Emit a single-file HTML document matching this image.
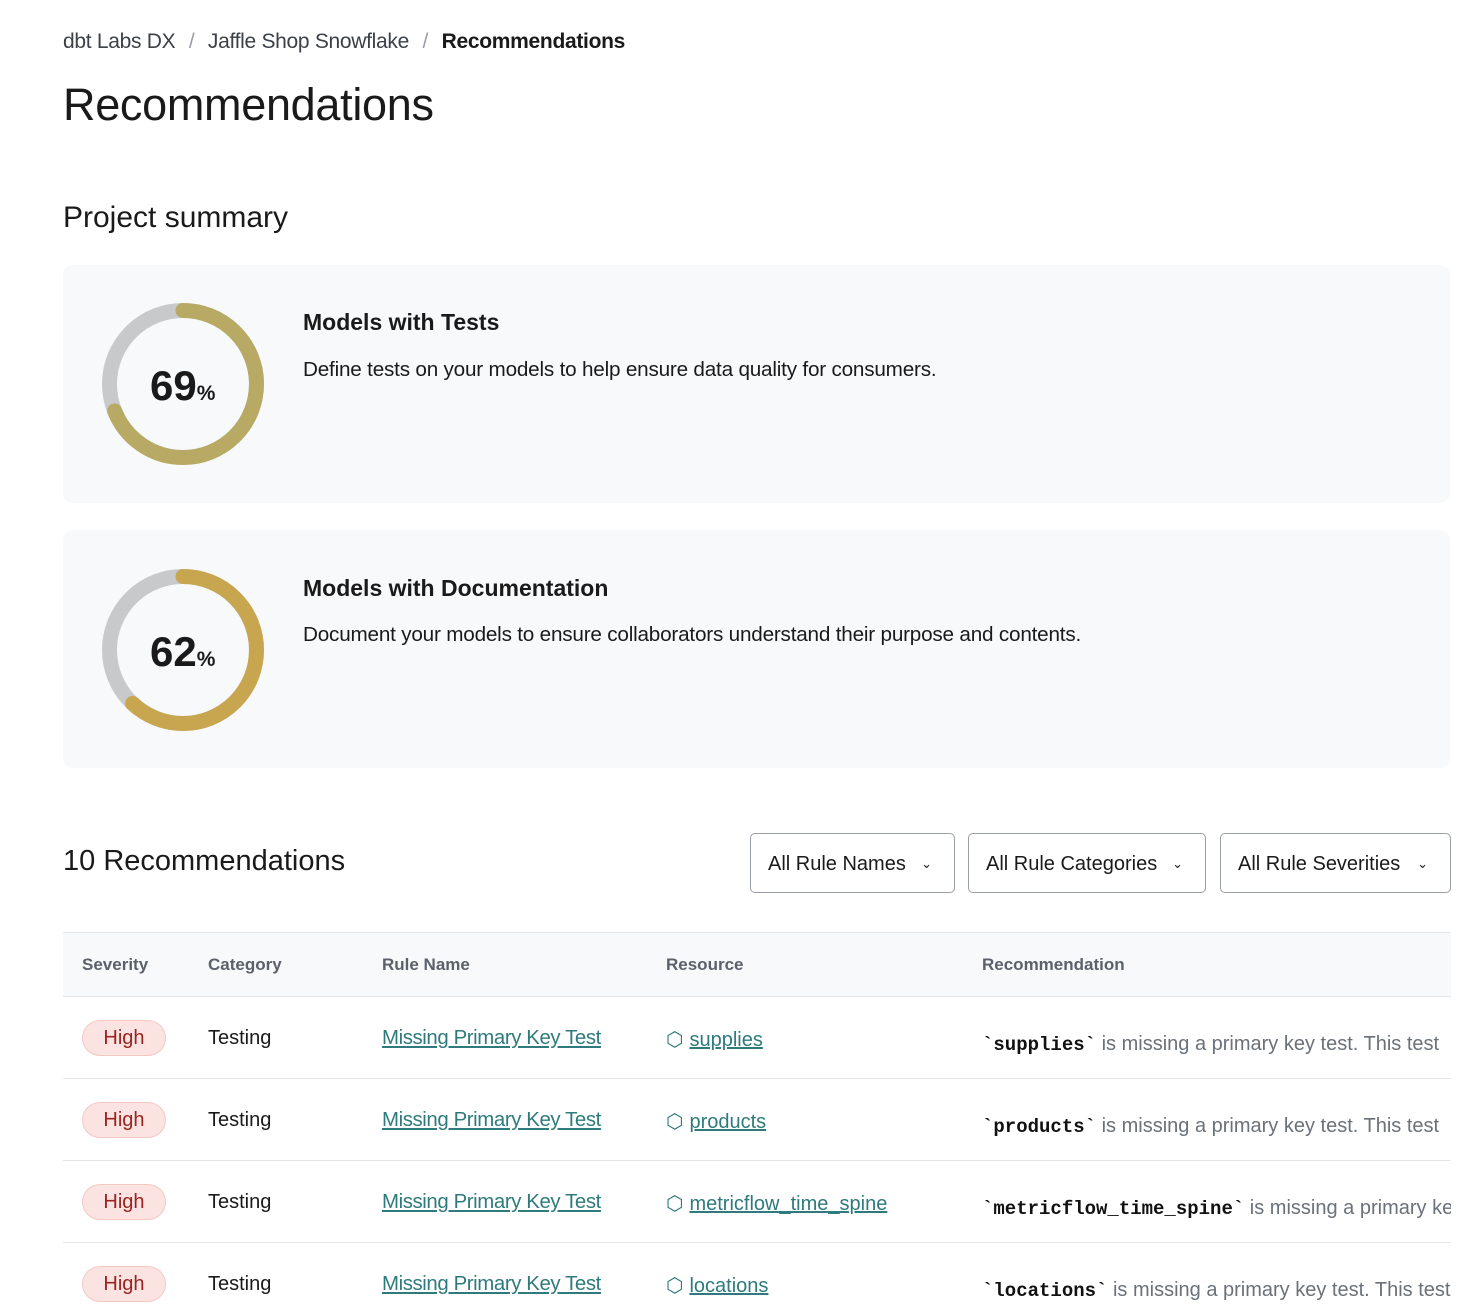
<!DOCTYPE html>
<html><head><meta charset="utf-8"><style>
body{margin:0;background:#fff;font-family:"Liberation Sans",sans-serif;color:#1a1a1a;}
#w{position:relative;width:1451px;height:1316px;overflow:hidden;}
.a{position:absolute;white-space:nowrap;}
.card{position:absolute;left:63px;width:1387px;height:238px;background:#f8f9fb;border-radius:10px;}
.dd{position:absolute;top:833px;height:60px;border:1px solid #9a9ea6;border-radius:5px;box-sizing:border-box;font-size:20px;line-height:60px;padding-left:17px;color:#1a1a1a;}
.dd span{position:absolute;right:22px;top:0;font-size:13px;}
.hd{font-size:17px;color:#5b616b;font-weight:bold;top:955px;}
.hi{position:absolute;left:82px;width:84px;height:36px;border-radius:18px;background:#fbe3e1;border:1px solid #f3c9c5;box-sizing:border-box;color:#9b2320;font-size:20px;line-height:34px;text-align:center;}
.cat{font-size:20px;left:208px;}
.rn{font-size:20.4px;left:382px;color:#2e7a7c;text-decoration:underline;letter-spacing:-0.4px;}
.rs{font-size:20px;left:666px;color:#2e7a7c;}
.rs u{margin-left:6px;}
.rc{font-size:20px;left:982px;color:#6b717a;}
.rc b{font-family:"Liberation Mono",monospace;color:#111;font-size:19px;}
.ln{position:absolute;left:63px;width:1388px;height:1px;background:#e4e6ea;}
</style></head><body><div id="w">
<div class="a" style="left:63px;top:30px;font-size:21px;color:#3c4048;letter-spacing:-0.3px">dbt Labs DX <span style="color:#9a9ea6;margin:0 8px">/</span> Jaffle Shop Snowflake <span style="color:#9a9ea6;margin:0 8px">/</span> <b style="color:#1a1a1a">Recommendations</b></div>
<div class="a" style="left:63px;top:79px;font-size:45px;letter-spacing:-0.3px">Recommendations</div>
<div class="a" style="left:63px;top:201px;font-size:30px;">Project summary</div>
<div class="card" style="top:265px"></div>
<div class="card" style="top:530px"></div>
<svg class="a" style="left:0;top:0" width="300" height="800">
<circle cx="183" cy="384" r="73.5" fill="none" stroke="#c8c9cb" stroke-width="15"/>
<circle cx="183" cy="384" r="73.5" fill="none" stroke="#b8aa64" stroke-width="15" stroke-linecap="round" stroke-dasharray="318.6 500" transform="rotate(-90 183 384)"/>
<circle cx="183" cy="650" r="73.5" fill="none" stroke="#c8c9cb" stroke-width="15"/>
<circle cx="183" cy="650" r="73.5" fill="none" stroke="#c8a650" stroke-width="15" stroke-linecap="round" stroke-dasharray="286.3 500" transform="rotate(-90 183 650)"/>
</svg>
<div class="a" style="left:150px;top:362px;font-size:42px;font-weight:bold">69<span style="font-size:21px">%</span></div>
<div class="a" style="left:150px;top:628px;font-size:42px;font-weight:bold">62<span style="font-size:21px">%</span></div>
<div class="a" style="left:303px;top:309px;font-size:23px;font-weight:bold">Models with Tests</div>
<div class="a" style="left:303px;top:358px;font-size:20.7px;letter-spacing:-0.2px">Define tests on your models to help ensure data quality for consumers.</div>
<div class="a" style="left:303px;top:575px;font-size:23px;font-weight:bold">Models with Documentation</div>
<div class="a" style="left:303px;top:623px;font-size:20.7px;letter-spacing:-0.2px">Document your models to ensure collaborators understand their purpose and contents.</div>
<div class="a" style="left:63px;top:845px;font-size:29px;">10 Recommendations</div>
<div class="dd" style="left:750px;width:205px">All Rule Names<span>&#8964;</span></div>
<div class="dd" style="left:968px;width:238px">All Rule Categories<span>&#8964;</span></div>
<div class="dd" style="left:1220px;width:231px">All Rule Severities<span>&#8964;</span></div>
<div class="a" style="left:63px;top:932px;width:1388px;height:64px;background:#f8f9fa"></div>
<div class="ln" style="top:932px"></div><div class="ln" style="top:996px"></div>
<div class="a hd" style="left:82px">Severity</div><div class="a hd" style="left:208px">Category</div><div class="a hd" style="left:382px">Rule Name</div><div class="a hd" style="left:666px">Resource</div><div class="a hd" style="left:982px">Recommendation</div>

<div class="hi" style="top:1020px">High</div><div class="a cat" style="top:1027px">Testing</div><div class="a rn" style="top:1027px">Missing Primary Key Test</div><div class="a rs" style="top:1027px">&#11041;<u>supplies</u></div><div class="a rc" style="top:1033px"><b>`supplies`</b> is missing a primary key test. This test</div>
<div class="ln" style="top:1078px"></div>
<div class="hi" style="top:1102px">High</div><div class="a cat" style="top:1109px">Testing</div><div class="a rn" style="top:1109px">Missing Primary Key Test</div><div class="a rs" style="top:1109px">&#11041;<u>products</u></div><div class="a rc" style="top:1115px"><b>`products`</b> is missing a primary key test. This test</div>
<div class="ln" style="top:1160px"></div>
<div class="hi" style="top:1184px">High</div><div class="a cat" style="top:1191px">Testing</div><div class="a rn" style="top:1191px">Missing Primary Key Test</div><div class="a rs" style="top:1191px">&#11041;<u>metricflow_time_spine</u></div><div class="a rc" style="top:1197px"><b>`metricflow_time_spine`</b> is missing a primary key test.</div>
<div class="ln" style="top:1242px"></div>
<div class="hi" style="top:1266px">High</div><div class="a cat" style="top:1273px">Testing</div><div class="a rn" style="top:1273px">Missing Primary Key Test</div><div class="a rs" style="top:1273px">&#11041;<u>locations</u></div><div class="a rc" style="top:1279px"><b>`locations`</b> is missing a primary key test. This test</div>
</div></body></html>
